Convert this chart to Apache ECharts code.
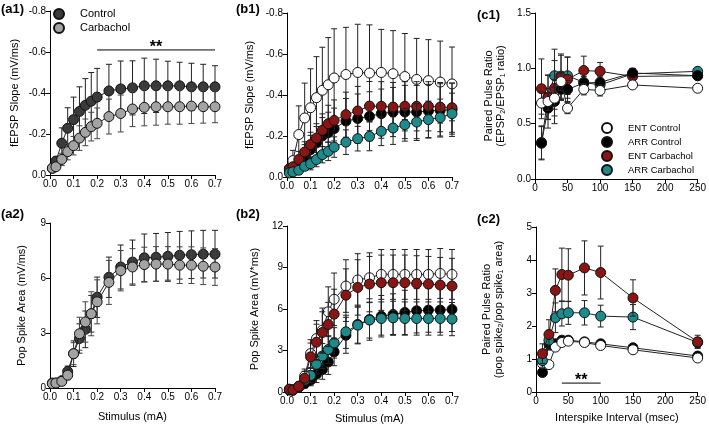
<!DOCTYPE html>
<html><head><meta charset="utf-8">
<script src="https://cdn.jsdelivr.net/npm/echarts/dist/echarts.min.js"></script>
<style>html,body{margin:0;padding:0;background:#fff}#c{width:709px;height:428px}</style>
</head><body><div id="c"></div><script>
// ---------- DATA ----------
const stimulus = [0.01,0.025,0.05,0.075,0.1,0.125,0.15,0.175,0.2,0.25,0.3,0.35,0.4,0.45,0.5,0.55,0.6,0.65,0.7];
const interval = [10,20,30,40,50,75,100,150,250];

// (a1) fEPSP slope
const a1Ctrl    = [-0.033,-0.068,-0.155,-0.228,-0.27,-0.31,-0.34,-0.36,-0.38,-0.41,-0.42,-0.425,-0.435,-0.435,-0.435,-0.435,-0.43,-0.43,-0.43];
const a1CtrlErr = [0.01,0.02,0.075,0.1,0.11,0.12,0.13,0.14,0.14,0.13,0.136,0.132,0.135,0.13,0.12,0.115,0.115,0.11,0.103];
const a1Carb    = [-0.033,-0.04,-0.076,-0.114,-0.143,-0.18,-0.208,-0.236,-0.252,-0.285,-0.30,-0.322,-0.33,-0.333,-0.333,-0.333,-0.336,-0.333,-0.333];
const a1CarbErr = [0.01,0.015,0.03,0.04,0.045,0.06,0.065,0.07,0.075,0.085,0.09,0.086,0.09,0.09,0.085,0.085,0.085,0.08,0.078];
// (a2) pop spike area
const a2Ctrl    = [0.27,0.27,0.4,0.9,1.87,2.7,3.2,4.05,4.95,6.04,6.6,6.87,7.1,7.13,7.18,7.24,7.27,7.3,7.3];
const a2CtrlErr = [0.05,0.05,0.1,0.3,0.7,0.8,1.0,1.0,1.1,1.1,1.2,1.2,1.3,1.3,1.3,1.3,1.3,1.3,1.3];
const a2Carb    = [0.24,0.27,0.36,0.7,1.87,2.96,3.6,4.05,4.7,5.76,6.4,6.6,6.73,6.76,6.76,6.7,6.7,6.64,6.6];
const a2CarbErr = [0.05,0.05,0.1,0.25,0.6,0.9,1.1,1.2,1.2,1.2,1.1,1.0,0.95,0.95,0.95,1.0,1.0,1.0,1.0];
// (b1) fEPSP slope
const b1EntCtrl    = [-0.04,-0.08,-0.207,-0.288,-0.338,-0.387,-0.423,-0.45,-0.483,-0.5,-0.51,-0.507,-0.51,-0.504,-0.49,-0.476,-0.47,-0.463,-0.454];
const b1EntCtrlErr = [0.02,0.05,0.14,0.17,0.19,0.2,0.21,0.23,0.24,0.23,0.235,0.235,0.21,0.21,0.21,0.2,0.2,0.2,0.18];
const b1ArrCtrl    = [-0.033,-0.04,-0.065,-0.098,-0.133,-0.166,-0.2,-0.216,-0.236,-0.273,-0.285,-0.296,-0.309,-0.317,-0.317,-0.317,-0.322,-0.325,-0.328];
const b1ArrCtrlErr = [0.01,0.02,0.04,0.06,0.07,0.08,0.09,0.1,0.1,0.11,0.12,0.12,0.12,0.12,0.13,0.13,0.13,0.13,0.13];
const b1EntCarb    = [-0.04,-0.05,-0.085,-0.122,-0.158,-0.19,-0.228,-0.26,-0.276,-0.304,-0.322,-0.346,-0.345,-0.341,-0.345,-0.345,-0.345,-0.341,-0.338];
const b1EntCarbErr = [0.01,0.02,0.04,0.05,0.06,0.07,0.08,0.09,0.1,0.11,0.12,0.12,0.12,0.12,0.12,0.12,0.12,0.12,0.12];
const b1ArrCarb    = [-0.02,-0.025,-0.033,-0.052,-0.065,-0.085,-0.109,-0.125,-0.146,-0.17,-0.187,-0.198,-0.223,-0.239,-0.255,-0.268,-0.28,-0.29,-0.309];
const b1ArrCarbErr = [0.005,0.01,0.015,0.02,0.03,0.035,0.04,0.045,0.05,0.06,0.06,0.07,0.07,0.08,0.08,0.09,0.09,0.09,0.1];
// (b2) pop spike area
const b2EntCtrl    = [0.2,0.12,0.43,1.16,2.78,3.86,4.47,5.8,6.7,7.66,8.1,8.26,8.5,8.5,8.5,8.5,8.5,8.57,8.5];
const b2EntCtrlErr = [0.05,0.05,0.2,0.5,1.0,1.3,1.6,1.8,1.9,1.9,1.9,1.8,1.8,1.8,1.8,1.8,1.8,1.8,1.8];
const b2EntCarb    = [0.2,0.15,0.4,1.0,2.54,3.6,4.3,4.88,5.63,7.0,7.56,7.8,7.9,7.9,7.9,7.85,7.8,7.73,7.66];
const b2EntCarbErr = [0.05,0.05,0.2,0.5,1.0,1.3,1.5,1.6,1.8,1.9,2.0,2.0,2.0,2.0,2.0,2.0,2.0,2.0,2.0];
const b2ArrCtrl    = [0.15,0.15,0.35,0.6,0.85,1.28,1.62,2.17,2.9,4.1,4.88,5.24,5.48,5.6,5.75,5.87,5.92,5.92,5.97];
const b2ArrCtrlErr = [0.05,0.05,0.1,0.3,0.4,0.6,0.7,0.9,1.0,1.3,1.4,1.5,1.5,1.5,1.6,1.6,1.6,1.6,1.6];
const b2ArrCarb    = [0.15,0.15,0.35,0.85,1.2,2.0,2.6,3.07,3.55,4.35,4.83,5.2,5.31,5.36,5.31,5.31,5.31,5.31,5.27];
const b2ArrCarbErr = [0.05,0.05,0.1,0.3,0.5,0.7,0.9,1.0,1.1,1.2,1.3,1.3,1.2,1.2,1.2,1.2,1.2,1.2,1.2];
// (c1) paired pulse ratio fEPSP
const c1EntCtrl    = [0.686,0.70,0.73,0.88,0.64,0.81,0.80,0.85,0.82];
const c1EntCtrlErr = [0.1,0.08,0.1,0.08,0.05,0.05,0.05,0.03,0.03];
const c1ArrCtrl    = [0.323,0.64,0.70,0.81,0.81,0.867,0.873,0.958,0.933];
const c1ArrCtrlErr = [0.15,0.18,0.2,0.1,0.08,0.06,0.05,0.04,0.03];
const c1EntCarb    = [0.815,0.737,0.82,0.918,0.90,0.98,0.973,0.927,0.933];
const c1EntCarbErr = [0.27,0.2,0.25,0.2,0.2,0.13,0.08,0.05,0.03];
const c1ArrCarb    = [0.33,0.74,0.933,0.93,0.933,0.873,0.85,0.95,0.973];
const c1ArrCarbErr = [0.15,0.2,0.24,0.2,0.17,0.08,0.06,0.05,0.03];
// (c2) paired pulse ratio pop spike
const c2EntCarb    = [1.16,1.74,3.08,3.56,3.54,3.76,3.62,2.85,1.52];
const c2EntCarbErr = [0.3,0.45,0.65,0.8,0.8,0.82,0.8,0.55,0.2];
const c2ArrCarb    = [0.95,1.57,2.25,2.37,2.4,2.4,2.3,2.27,1.5];
const c2ArrCarbErr = [0.2,0.3,0.45,0.37,0.35,0.37,0.33,0.38,0.15];
const c2EntCtrl    = [0.86,0.83,1.36,1.5,1.54,1.5,1.41,1.28,1.03];
const c2EntCtrlErr = [0.05,0.05,0.05,0.05,0.05,0.05,0.05,0.05,0.05];
const c2ArrCtrl    = [0.59,1.45,1.46,1.57,1.57,1.52,1.46,1.34,1.09];
const c2ArrCtrlErr = [0.06,0.06,0.06,0.06,0.06,0.06,0.06,0.06,0.06];
// significance bars: [xStart, xEnd, y]
const sigA1 = [0.2, 0.7, -0.61];
const sigC2 = [40, 100, 0.27];

// ---------- STYLE ----------
const FONT = '"Liberation Sans", Arial, sans-serif';
const COL = {ctrlA:'#3a3a3a', carbA:'#a3a3a3', white:'#ffffff', black:'#000000', red:'#8a1515', teal:'#1d8b8b'};

function pairs(xs, ys){ return xs.map((x,i)=>[x, ys[i]]); }
function errData(xs, ys, es){ return xs.map((x,i)=>[x, ys[i]-es[i], ys[i]+es[i]]); }
function errRender(color){
  return function(params, api){
    const x = api.value(0);
    const a = api.coord([x, api.value(1)]), b = api.coord([x, api.value(2)]);
    const w = 3, st = {stroke:color, lineWidth:1};
    return {type:'group', children:[
      {type:'line', shape:{x1:a[0],y1:a[1],x2:b[0],y2:b[1]}, style:st},
      {type:'line', shape:{x1:a[0]-w,y1:a[1],x2:a[0]+w,y2:a[1]}, style:st},
      {type:'line', shape:{x1:b[0]-w,y1:b[1],x2:b[0]+w,y2:b[1]}, style:st}
    ]};
  };
}
function sigRender(params, api){
  const a = api.coord([api.value(0), api.value(2)]), b = api.coord([api.value(1), api.value(2)]);
  return {type:'group', children:[
    {type:'line', shape:{x1:a[0],y1:a[1],x2:b[0],y2:b[1]}, style:{stroke:'#000', lineWidth:1}},
    {type:'text', x:(a[0]+b[0])/2, y:a[1]+6, style:{text:'**', font:'bold 16px '+FONT, align:'center', verticalAlign:'bottom', fill:'#000'}}
  ]};
}

const series = [];
const errSeries = [];
function add(name, gi, xs, ys, es, fill, z, errColor){
  series.push({type:'line', name, xAxisIndex:gi, yAxisIndex:gi, data:pairs(xs, ys),
    symbol:'circle', symbolSize:10, showSymbol:true, animation:false,
    lineStyle:{color:'#222', width:1}, itemStyle:{color:fill, borderColor:'#111', borderWidth:1}, z:z+1});
  errSeries.push({type:'custom', name, xAxisIndex:gi, yAxisIndex:gi, data:errData(xs, ys, es),
    renderItem:errRender(errColor||'#222'), z:z, silent:true, animation:false});
}
// a1
add('Control', 0, stimulus, a1Ctrl, a1CtrlErr, COL.ctrlA, 2);
add('Carbachol', 0, stimulus, a1Carb, a1CarbErr, COL.carbA, 4, '#444');
// a2
add('Control', 1, stimulus, a2Ctrl, a2CtrlErr, COL.ctrlA, 2);
add('Carbachol', 1, stimulus, a2Carb, a2CarbErr, COL.carbA, 4, '#444');
// b1
add('ENT Control', 2, stimulus, b1EntCtrl, b1EntCtrlErr, COL.white, 2);
add('ARR Control', 2, stimulus, b1ArrCtrl, b1ArrCtrlErr, COL.black, 4);
add('ENT Carbachol', 2, stimulus, b1EntCarb, b1EntCarbErr, COL.red, 6);
add('ARR Carbachol', 2, stimulus, b1ArrCarb, b1ArrCarbErr, COL.teal, 8);
// b2
add('ARR Control', 3, stimulus, b2ArrCtrl, b2ArrCtrlErr, COL.black, 2);
add('ARR Carbachol', 3, stimulus, b2ArrCarb, b2ArrCarbErr, COL.teal, 4);
add('ENT Control', 3, stimulus, b2EntCtrl, b2EntCtrlErr, COL.white, 6);
add('ENT Carbachol', 3, stimulus, b2EntCarb, b2EntCarbErr, COL.red, 8);
// c1
add('ARR Carbachol', 4, interval, c1ArrCarb, c1ArrCarbErr, COL.teal, 2);
add('ENT Carbachol', 4, interval, c1EntCarb, c1EntCarbErr, COL.red, 4);
add('ARR Control', 4, interval, c1ArrCtrl, c1ArrCtrlErr, COL.black, 6);
add('ENT Control', 4, interval, c1EntCtrl, c1EntCtrlErr, COL.white, 8);
// c2
add('ARR Control', 5, interval, c2ArrCtrl, c2ArrCtrlErr, COL.black, 2);
add('ENT Control', 5, interval, c2EntCtrl, c2EntCtrlErr, COL.white, 4);
add('ARR Carbachol', 5, interval, c2ArrCarb, c2ArrCarbErr, COL.teal, 6);
add('ENT Carbachol', 5, interval, c2EntCarb, c2EntCarbErr, COL.red, 8);

series.push({type:'custom', xAxisIndex:0, yAxisIndex:0, data:[sigA1], renderItem:sigRender, z:20, silent:true, animation:false});
series.push({type:'custom', xAxisIndex:5, yAxisIndex:5, data:[sigC2], renderItem:sigRender, z:20, silent:true, animation:false});

const txt = {fontFamily:FONT, color:'#000'};
function xAx(gi, min, max, iv, digits, name, gap){
  return {gridIndex:gi, type:'value', min, max, interval:iv,
    axisLine:{onZero:false, lineStyle:{color:'#000', width:1}},
    axisTick:{length:4, lineStyle:{color:'#000'}},
    axisLabel:Object.assign({fontSize:10, margin:4, formatter:v=>digits?v.toFixed(digits):String(v)}, txt),
    splitLine:{show:false}, name:name||'', nameLocation:'middle', nameGap:gap||20,
    nameTextStyle:Object.assign({fontSize:11}, txt)};
}
function yAx(gi, min, max, iv, digits, name, gap, inverse, nameStyle){
  return {gridIndex:gi, type:'value', min, max, interval:iv, inverse:!!inverse,
    axisLine:{show:true, onZero:false, lineStyle:{color:'#000', width:1}},
    axisTick:{show:true, length:4, lineStyle:{color:'#000'}},
    axisLabel:Object.assign({fontSize:10, margin:4, formatter:v=>{const s=digits?Math.abs(v)<1e-9?(0).toFixed(digits):v.toFixed(digits):String(v);return s;}}, txt),
    splitLine:{show:false}, name, nameLocation:'middle', nameGap:gap,
    nameTextStyle:nameStyle||Object.assign({fontSize:11}, txt)};
}
const richName = {
  t:{fontSize:11, fontFamily:FONT, color:'#000', lineHeight:12},
  s:{fontSize:7, fontFamily:FONT, color:'#000', lineHeight:12, verticalAlign:'bottom', padding:[5,0,0,0]}
};

const option = {
  backgroundColor:'#fff',
  animation:false,
  textStyle:{fontFamily:FONT},
  grid:[
    {left:50, top:11, width:165, height:164},
    {left:50, top:223, width:165, height:165},
    {left:287, top:13, width:165, height:164},
    {left:287, top:226, width:165, height:166},
    {left:535, top:13, width:165, height:166},
    {left:536, top:227, width:164, height:165}
  ],
  xAxis:[
    xAx(0, 0, 0.7, 0.1, 1),
    xAx(1, 0, 0.7, 0.1, 1, 'Stimulus (mA)', 23),
    xAx(2, 0, 0.7, 0.1, 1),
    xAx(3, 0, 0.7, 0.1, 1, 'Stimulus (mA)', 21),
    xAx(4, 0, 250, 50, 0),
    xAx(5, 0, 250, 50, 0, 'Interspike Interval (msec)', 20)
  ],
  yAxis:[
    yAx(0, -0.8, 0, 0.2, 1, 'fEPSP Slope (mV/ms)', 30, true),
    yAx(1, 0, 9, 3, 0, 'Pop Spike Area (mV/ms)', 23),
    yAx(2, -0.8, 0, 0.2, 1, 'fEPSP Slope (mV/ms)', 32, true),
    yAx(3, 0, 12, 3, 0, 'Pop Spike Area (mV*ms)', 27),
    yAx(4, 0, 1.5, 0.5, 1, '{t|Paired Pulse Ratio}\n{t|(EPSP}{s|2}{t|/EPSP}{s|1}{t| ratio)}', 28, false, {rich:richName}),
    yAx(5, 0, 5, 1, 0, '{t|Paired Pulse Ratio}\n{t|(pop spike}{s|2}{t|/pop spike}{s|1}{t| area)}', 31, false, {rich:richName})
  ],
  legend:[
    {left:53, top:7, padding:0, orient:'vertical', itemWidth:10, itemHeight:10, itemGap:0, icon:'circle',
     data:['Control','Carbachol'], textStyle:Object.assign({fontSize:11, lineHeight:14, padding:[0,0,0,11]}, txt), selectedMode:false},
    {left:601, top:121, padding:0, orient:'vertical', itemWidth:10, itemHeight:10, itemGap:0, icon:'circle',
     data:['ENT Control','ARR Control','ENT Carbachol','ARR Carbachol'], textStyle:Object.assign({fontSize:9.5, lineHeight:14, padding:[0,0,0,11]}, txt), selectedMode:false}
  ],
  graphic:[
    {type:'text', left:1, top:3, style:{text:'(a1)', font:'bold 13px '+FONT, fill:'#000'}},
    {type:'text', left:1, top:208, style:{text:'(a2)', font:'bold 13px '+FONT, fill:'#000'}},
    {type:'text', left:236, top:3, style:{text:'(b1)', font:'bold 13px '+FONT, fill:'#000'}},
    {type:'text', left:236, top:208, style:{text:'(b2)', font:'bold 13px '+FONT, fill:'#000'}},
    {type:'text', left:477, top:9, style:{text:'(c1)', font:'bold 13px '+FONT, fill:'#000'}},
    {type:'text', left:477, top:213, style:{text:'(c2)', font:'bold 13px '+FONT, fill:'#000'}}
  ],
  series: series.concat(errSeries)
};
const chart = echarts.init(document.getElementById('c'), null, {renderer:'canvas'});
chart.setOption(option);
</script></body></html>
